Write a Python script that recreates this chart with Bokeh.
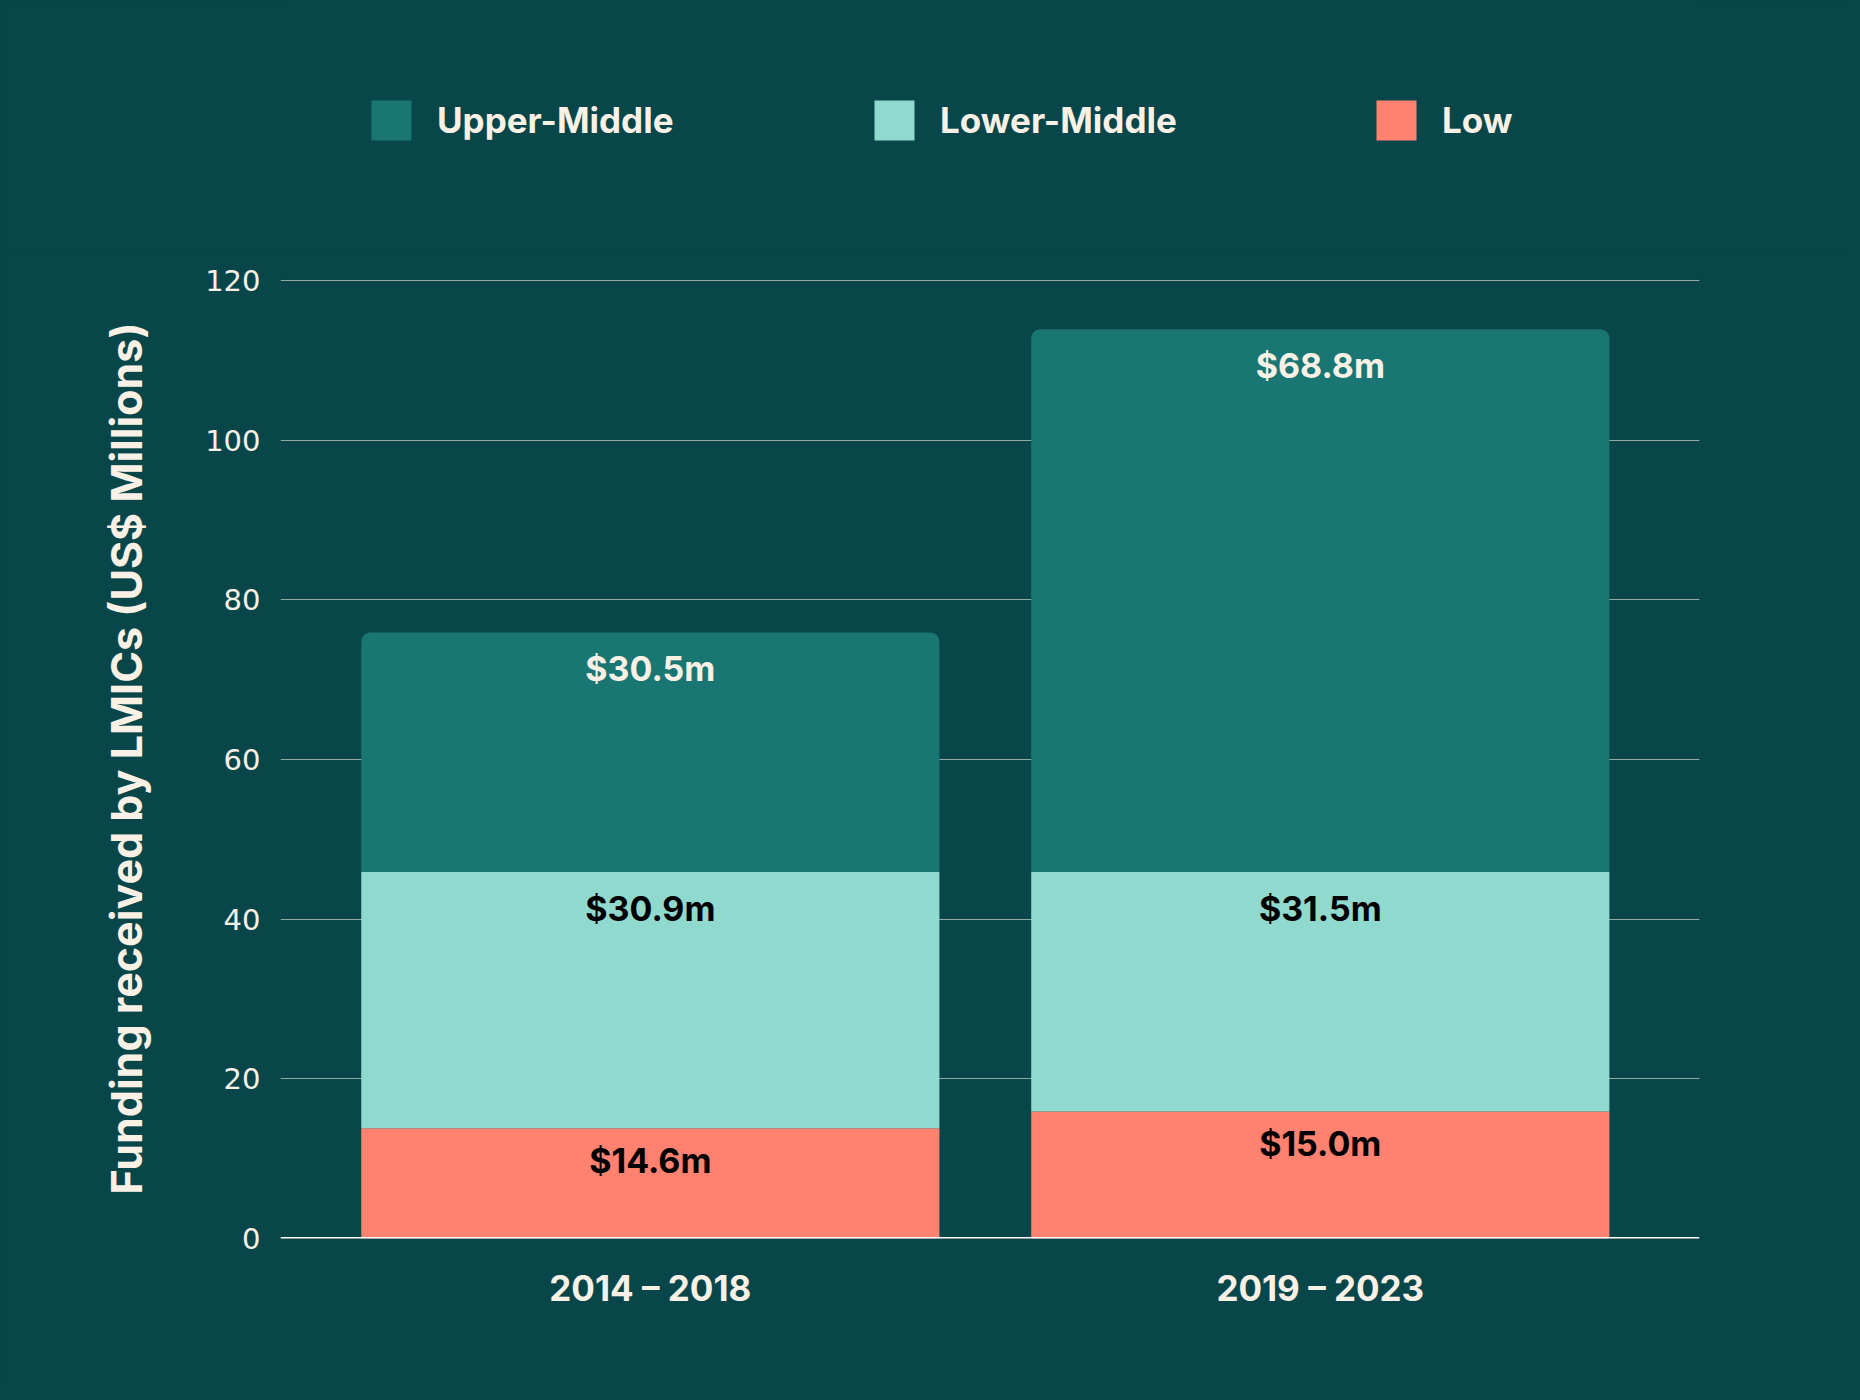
import numpy as np
from bokeh.plotting import figure
from bokeh.layouts import column
from bokeh.models import Range1d, FixedTicker, Legend, LegendItem, ColumnDataSource, Span
from bokeh.core.properties import value
from bokeh.embed import file_html
from bokeh.resources import INLINE

categories = ["2014 – 2018", "2019 – 2023"]
series = ["Upper-Middle", "Lower-Middle", "Low"]
low = [13.8, 15.9]
lower_middle = [32.1, 30.0]
upper_middle = [30.0, 68.0]
low_labels = ["$14.6m", "$15.0m"]
lower_middle_labels = ["$30.9m", "$31.5m"]
upper_middle_labels = ["$30.5m", "$68.8m"]
y_ticks = [0, 20, 40, 60, 80, 100, 120]

BG = "#08464A"
C_UM = "#1A7673"
C_LM = "#90D9CF"
C_LOW = "#FF8170"
CREAM = "#FAF1E6"
FONT = "Inter"

W = 1844
TOP_H = 248
MAIN_H = 1384 - TOP_H
FRAME_L = 280

# ---------- legend strip ----------
top = figure(width=W, height=TOP_H, output_backend="svg", toolbar_location=None,
             x_range=Range1d(10, 11), y_range=Range1d(10, 11),
             x_axis_type=None, y_axis_type=None,
             min_border=0, min_border_left=0, min_border_right=0, min_border_top=0, min_border_bottom=0)
top.background_fill_color = BG
top.border_fill_color = BG
top.outline_line_color = None
top.outline_line_alpha = 0
top.outline_line_width = 0
top.grid.visible = False
top.axis.visible = False
colors = [C_UM, C_LM, C_LOW]
legend_left = [366, 869, 1371]
for name, c, lx in zip(series, colors, legend_left):
    r = top.vbar(x=[-5], bottom=[0], top=[1], width=0.1, fill_color=c, line_color=None)
    lg = Legend(items=[LegendItem(label=name, renderers=[r])], orientation="horizontal",
                location=(lx - FRAME_L, TOP_H - 145),
                glyph_width=50, glyph_height=50, label_standoff=21, label_height=50,
                spacing=0, padding=0, margin=0,
                label_text_font=FONT, label_text_font_size="35px", label_text_font_style="bold",
                label_text_color=CREAM, label_text_baseline="middle",
                border_line_color=None, background_fill_alpha=0)
    top.add_layout(lg, "center")

# ---------- main chart ----------
p = figure(width=W, height=MAIN_H, output_backend="svg", toolbar_location=None,
           x_range=Range1d(-0.052, 2.066), y_range=Range1d(0, 120.25),
           min_border_left=FRAME_L, min_border_right=W - 1699, min_border_top=280 - TOP_H - 2,
           min_border_bottom=1384 - 1238)
p.background_fill_color = BG
p.border_fill_color = BG
p.outline_line_color = None
p.outline_line_alpha = 0

x = np.arange(len(categories)) + 0.5
low_a = np.array(low)
lm_a = np.array(lower_middle)
um_a = np.array(upper_middle)
lm_top = low_a + lm_a
um_top = lm_top + um_a

src = ColumnDataSource(dict(x=x, low_top=low_a, lm_top=lm_top, um_top=um_top,
                            low_lab=low_labels, lm_lab=lower_middle_labels, um_lab=upper_middle_labels))

bw = 0.863
p.vbar(x="x", bottom=0, top="low_top", width=bw, source=src, fill_color=C_LOW, line_color=None)
p.vbar(x="x", bottom="low_top", top="lm_top", width=bw, source=src, fill_color=C_LM, line_color=None)
p.vbar(x="x", bottom="lm_top", top="um_top", width=bw, source=src, fill_color=C_UM, line_color=None,
       border_radius=(9, 9, 0, 0))

lab_kw = dict(source=src, text_align="center", text_baseline="middle", text_font=value(FONT),
              text_font_size="34px", text_font_style="bold")
p.text(x="x", y="um_top", text="um_lab", text_color=CREAM, y_offset=36, **lab_kw)
p.text(x="x", y="lm_top", text="lm_lab", text_color="#000000", y_offset=36, **lab_kw)
p.text(x="x", y="low_top", text="low_lab", text_color="#000000", y_offset=32, **lab_kw)

p.xaxis.ticker = FixedTicker(ticks=list(x))
p.xaxis.major_label_overrides = {float(xi): c for xi, c in zip(x, categories)}
p.xaxis.major_tick_line_color = None
p.xaxis.minor_tick_line_color = None
p.xaxis.axis_line_color = None
p.xaxis.major_label_text_font = FONT
p.xaxis.major_label_text_font_size = "35px"
p.xaxis.major_label_text_font_style = "bold"
p.xaxis.major_label_text_color = CREAM
p.xaxis.major_label_standoff = 22

p.yaxis.ticker = FixedTicker(ticks=y_ticks)
p.yaxis.major_tick_line_color = None
p.yaxis.minor_tick_line_color = None
p.yaxis.axis_line_color = None
p.yaxis.major_label_text_font = "DejaVu Sans"
p.yaxis.major_label_text_font_size = "29px"
p.yaxis.major_label_text_color = CREAM
p.yaxis.major_label_standoff = 14
p.yaxis.axis_label = "Funding received by LMICs (US$ Millions)"
p.yaxis.axis_label_text_font = FONT
p.yaxis.axis_label_text_font_size = "43px"
p.yaxis.axis_label_text_font_style = "bold"
p.yaxis.axis_label_text_color = CREAM
p.yaxis.axis_label_standoff = 50

p.xgrid.grid_line_color = None
p.ygrid.grid_line_color = "#8FA9A6"
p.ygrid.grid_line_width = 1.2

p.add_layout(Span(location=0, dimension="width", line_color="#FFFFFF", line_width=3))

layout = column(top, p, spacing=0)
html = file_html(layout, INLINE)
html = html.replace("</head>", "<style>html,body{background:%s;}</style></head>" % BG, 1)
open("out.html", "w").write(html)
